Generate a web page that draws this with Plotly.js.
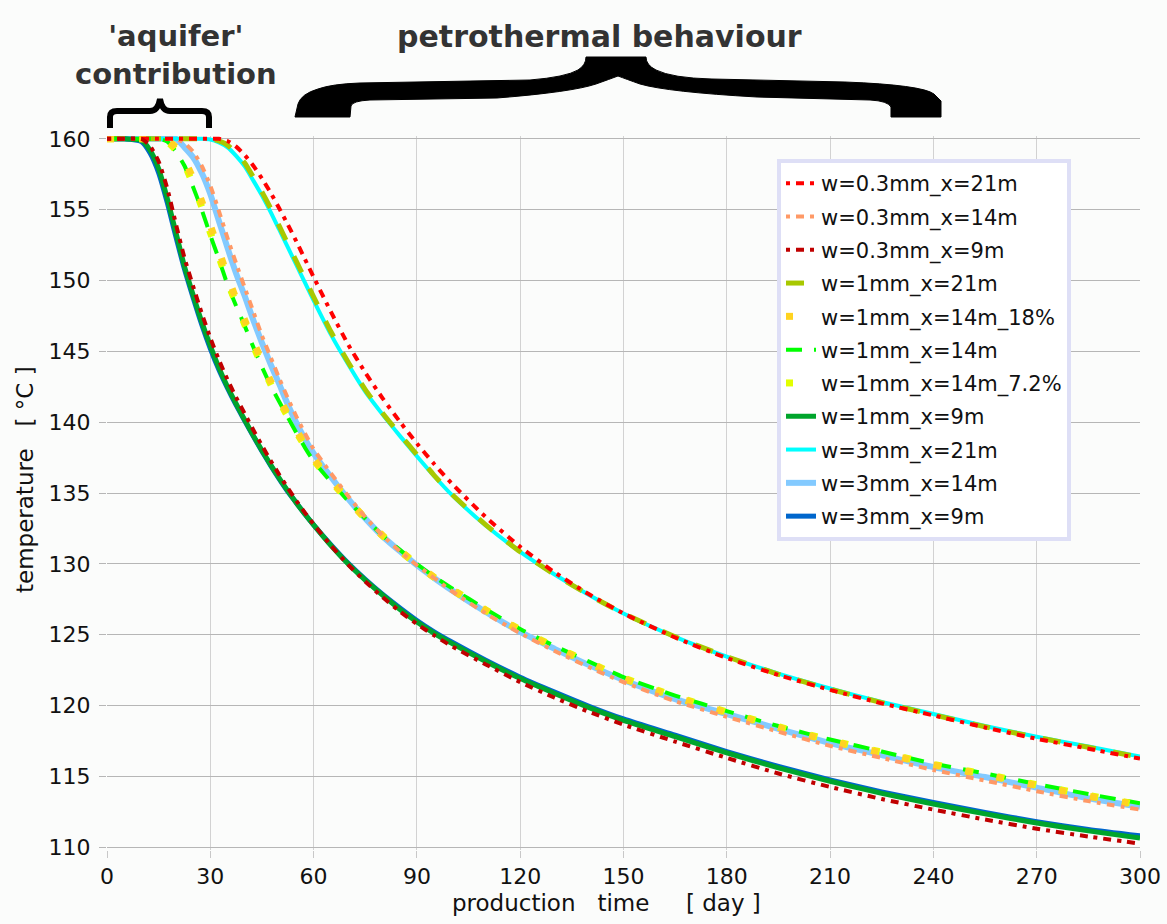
<!DOCTYPE html>
<html>
<head>
<meta charset="utf-8">
<script src="https://cdn.plot.ly/plotly-3.0.1.min.js"></script>
<style>
  html, body { margin: 0; padding: 0; background: #fbfcfb; }
  #chart { width: 1167px; height: 924px; }
</style>
</head>
<body>
<div id="chart"></div>
<script>
// ---------------- data ----------------
const days = [0,5,10,12.5,15,17.5,20,22.5,25,27.5,30,32.5,35,37.5,40,42.5,45,47.5,50,52.5,55,57.5,60,
  65,70,75,80,85,90,95,100,110,120,130,140,150,165,180,195,210,225,240,255,270,285,300];

const w03_x21 = [160,160,160,160,160,160,160,160,160,160,160,160,159.85,159.45,158.85,158.1,157.2,156.2,155.1,153.95,152.75,151.5,150.25,
  147.8,145.5,143.5,141.7,140.05,138.5,137.05,135.7,133.3,131.2,129.4,127.85,126.5,124.8,123.35,122.15,121.1,120.15,119.3,118.45,117.65,116.95,116.25];
const w03_x14 = [160,160,160,160,160,160,160,159.7,159.1,158.1,156.7,154.9,153.0,151.2,149.5,147.8,146.1,144.6,143.1,141.7,140.4,139.2,138.1,
  136.4,134.8,133.3,132.0,130.9,129.9,129.0,128.1,126.5,125.1,123.85,122.7,121.65,120.3,119.2,118.15,117.15,116.3,115.45,114.7,113.95,113.25,112.65];
const w03_x9 = [160,160,160,159.5,158.4,156.5,154.0,151.6,149.6,147.7,145.95,144.4,143.0,141.75,140.6,139.45,138.35,137.3,136.3,135.35,134.45,133.6,132.8,
  131.3,129.95,128.75,127.65,126.65,125.75,124.95,124.2,122.9,121.65,120.55,119.55,118.65,117.45,116.3,115.2,114.25,113.4,112.65,111.95,111.3,110.75,110.25];
const w1_x21 = [160,160,160,160,160,160,160,160,160,160,160,159.85,159.55,159.0,158.3,157.3,156.25,155.1,153.85,152.6,151.35,150.1,148.85,
  146.4,144.25,142.3,140.65,139.15,137.7,136.25,134.95,132.75,130.85,129.25,127.8,126.5,124.85,123.45,122.2,121.15,120.2,119.35,118.5,117.75,117.05,116.35];
const w1_x14_18 = [160,160,160,160,160,159.9,159.4,158.5,157.2,155.6,153.9,152.1,150.3,148.7,147.2,145.7,144.3,142.9,141.7,140.55,139.45,138.4,137.45,
  135.95,134.55,133.2,132.0,130.95,129.95,129.05,128.2,126.7,125.3,124.1,123.0,121.9,120.6,119.5,118.45,117.5,116.65,115.8,115.1,114.35,113.6,112.95];
const w1_x14 = [160,160,160,160,160,159.8,159.1,158.1,156.6,155.0,153.2,151.5,149.7,148.2,146.8,145.3,143.9,142.6,141.45,140.35,139.25,138.2,137.25,
  135.8,134.45,133.2,132.0,131.0,130.0,129.1,128.3,126.8,125.4,124.2,123.1,122.0,120.7,119.6,118.55,117.6,116.75,115.9,115.2,114.45,113.75,113.1];
const w1_x14_72 = [160,160,160,160,160,159.8,159.2,158.2,156.8,155.2,153.4,151.7,149.9,148.4,146.9,145.4,144.0,142.7,141.5,140.4,139.3,138.3,137.35,
  135.85,134.5,133.2,132.0,130.95,129.95,129.05,128.25,126.75,125.35,124.15,123.05,121.95,120.65,119.55,118.5,117.55,116.7,115.85,115.15,114.4,113.65,113.0];
const w1_x9 = [160,160,159.9,159.2,157.9,155.8,153.4,151.0,149.0,147.1,145.4,143.85,142.5,141.3,140.15,139.05,138.0,137.0,136.05,135.15,134.3,133.5,132.75,
  131.3,130.0,128.85,127.8,126.8,125.9,125.1,124.4,123.1,121.9,120.85,119.85,118.95,117.8,116.65,115.6,114.65,113.8,113.05,112.35,111.7,111.15,110.65];
const w3_x21 = [160,160,160,160,160,160,160,160,160,160,159.95,159.75,159.4,158.8,158.05,157.05,156.0,154.85,153.6,152.35,151.1,149.85,148.6,
  146.2,144.1,142.15,140.55,139.05,137.6,136.2,134.9,132.7,130.85,129.25,127.8,126.5,124.85,123.45,122.25,121.2,120.25,119.4,118.55,117.8,117.1,116.4];
const w3_x14 = [160,160,160,160,160,160,160,159.4,158.7,157.6,156.1,154.2,152.3,150.5,148.9,147.2,145.6,144.1,142.7,141.25,139.95,138.8,137.8,
  136.15,134.6,133.2,131.95,130.9,129.9,129.0,128.15,126.6,125.2,124.0,122.85,121.8,120.45,119.4,118.35,117.35,116.5,115.65,114.95,114.2,113.45,112.85];
const w3_x9 = [160,160,159.8,159.0,157.6,155.5,153.1,150.8,148.8,146.9,145.2,143.7,142.4,141.2,140.1,139.0,137.95,136.95,136.0,135.1,134.3,133.5,132.75,
  131.35,130.05,128.9,127.85,126.9,126.0,125.2,124.5,123.2,122.0,120.95,119.95,119.05,117.9,116.75,115.7,114.75,113.9,113.15,112.45,111.8,111.25,110.8];

const xTicks = [0,30,60,90,120,150,180,210,240,270,300];
const yTicks = [110,115,120,125,130,135,140,145,150,155,160];

// ---------------- series styling (drawn bottom -> top; legend by rank) ----------------
const DASHDOT = '4px,6px,8px,6px';
const series = [
  {name:'w=3mm_x=14m',       y:w3_x14,    color:'#83caff', width:6, dash:'solid',     rank:10},
  {name:'w=3mm_x=21m',       y:w3_x21,    color:'#00ffff', width:4, dash:'solid',     rank:9},
  {name:'w=3mm_x=9m',        y:w3_x9,     color:'#0066cc', width:5, dash:'solid',     rank:11},
  {name:'w=1mm_x=9m',        y:w1_x9,     color:'#00a52c', width:5, dash:'solid',     rank:8},
  {name:'w=1mm_x=21m',       y:w1_x21,    color:'#a8c800', width:5, dash:'18px,18px', rank:4},
  {name:'w=1mm_x=14m',       y:w1_x14,    color:'#00ff00', width:4, dash:'16px,12px', rank:6},
  {name:'w=1mm_x=14m_7.2%',  y:w1_x14_72, color:'#e2ff00', width:7, dash:'7px,25px',  rank:7},
  {name:'w=1mm_x=14m_18%',   y:w1_x14_18, color:'#ffd320', width:7, dash:'7px,25px',  rank:5},
  {name:'w=0.3mm_x=14m',     y:w03_x14,   color:'#ff9966', width:4, dash:DASHDOT,     rank:2},
  {name:'w=0.3mm_x=21m',     y:w03_x21,   color:'#ff0000', width:4, dash:DASHDOT,     rank:1},
  {name:'w=0.3mm_x=9m',      y:w03_x9,    color:'#c00000', width:4, dash:DASHDOT,     rank:3}
];

const traces = series.map(s => ({
  type: 'scatter', mode: 'lines', x: days, y: s.y, name: s.name,
  legendgroup: s.name, legendrank: s.rank,
  line: {color: s.color, width: s.width, dash: s.dash, shape: 'spline', smoothing: 0.6},
  hoverinfo: 'skip'
}));

// ---------------- layout helpers (pixel -> paper) ----------------
const W = 1167, H = 924, L = 107, R = 1140, T = 136, B = 850;
const fx = px => (px - L) / (R - L);
const fy = py => (B - py) / (B - T);
function path(cmds) {
  return cmds.map(c => typeof c === 'string' ? c :
    fx(c[0]).toFixed(5) + ',' + fy(c[1]).toFixed(5)).join(' ');
}

const smallBrace = path(['M',[110,128],'L',[110,117],'Q',[110,111],[117,111],'L',[150,111],
  'Q',[158,111],[160,99],'Q',[162,111],[170,111],'L',[202,111],'Q',[209,111],[209,117],'L',[209,128]]);

const bigBrace = path(['M',[295,117],'L',[298,104],'Q',[301,94],[318,89],'Q',[332,84],[360,83],
  'L',[530,80],'Q',[566,77],[578,70],'Q',[586,65],[586,57],'L',[646,57],'Q',[646,65],[656,70],
  'Q',[672,78],[712,79],'L',[845,82],'Q',[922,85],[934,94],'L',[941,101],'L',[941,117],
  'L',[891,117],'L',[891,107],'Q',[888,101],[870,100],'L',[757,97],'Q',[668,92],[640,84],
  'Q',[626,79],[618,76],'Q',[610,79],[596,84],'Q',[572,92],[497,98],'L',[370,100],
  'Q',[352,101],[351,106],'L',[350,117],'Z']);

const NB = '\u00a0';
const FONT = 'DejaVu Sans, Verdana, sans-serif';

const layout = {
  width: W, height: H,
  margin: {l: L, r: W - R, t: T, b: H - B, pad: 0},
  paper_bgcolor: '#fbfcfb', plot_bgcolor: '#fbfcfb',
  showlegend: true,
  font: {family: FONT, color: '#111111', size: 22},
  xaxis: {
    range: [0, 300], tickmode: 'array', tickvals: xTicks, ticktext: xTicks.map(String),
    showgrid: true, gridcolor: '#d2d2d2', gridwidth: 1, zeroline: false, showline: false,
    ticks: 'outside', ticklen: 7, tickcolor: '#c8c8c8', ticklabelstandoff: 0,
    tickfont: {family: FONT, size: 22, color: '#111111'}, fixedrange: true
  },
  yaxis: {
    range: [109.8, 160.2], tickmode: 'array', tickvals: yTicks, ticktext: yTicks.map(String),
    showgrid: true, gridcolor: '#b6b6b6', gridwidth: 1, zeroline: false, showline: false,
    ticks: 'outside', ticklen: 7, tickcolor: '#b6b6b6', ticklabelstandoff: 4,
    tickfont: {family: FONT, size: 22, color: '#111111'}, fixedrange: true
  },
  legend: {
    x: fx(777), y: fy(159), xanchor: 'left', yanchor: 'top',
    bgcolor: '#ffffff', bordercolor: '#dedff6', borderwidth: 4,
    font: {family: FONT, size: 21, color: '#111111'},
    tracegroupgap: 3, traceorder: 'grouped', itemwidth: 30
  },
  shapes: [
    {type: 'path', xref: 'paper', yref: 'paper', path: smallBrace,
     line: {color: '#000000', width: 6}, fillcolor: 'rgba(0,0,0,0)', layer: 'above'},
    {type: 'path', xref: 'paper', yref: 'paper', path: bigBrace,
     line: {color: '#000000', width: 1}, fillcolor: '#000000', layer: 'above'}
  ],
  annotations: [
    {xref: 'paper', yref: 'paper', x: fx(176), y: fy(55), xanchor: 'center', yanchor: 'middle',
     text: "<b>'aquifer'<br>contribution</b>", showarrow: false,
     font: {family: FONT, size: 29, color: '#333333'}},
    {xref: 'paper', yref: 'paper', x: fx(599), y: fy(36), xanchor: 'center', yanchor: 'middle',
     text: '<b>petrothermal behaviour</b>', showarrow: false,
     font: {family: FONT, size: 30, color: '#333333'}},
    {xref: 'paper', yref: 'paper', x: fx(25), y: fy(479), xanchor: 'center', yanchor: 'middle',
     text: 'temperature' + NB + NB + NB + '[' + NB + '°C' + NB + ']', textangle: -90, showarrow: false,
     font: {family: FONT, size: 23, color: '#111111'}},
    {xref: 'paper', yref: 'paper', x: fx(606), y: fy(903), xanchor: 'center', yanchor: 'middle',
     text: 'production' + NB + NB + NB + 'time' + NB + NB + NB + NB + NB + '[' + NB + 'day' + NB + ']',
     showarrow: false, font: {family: FONT, size: 23, color: '#111111'}}
  ]
};

Plotly.newPlot('chart', traces, layout, {displayModeBar: false, staticPlot: true});
</script>
</body>
</html>
